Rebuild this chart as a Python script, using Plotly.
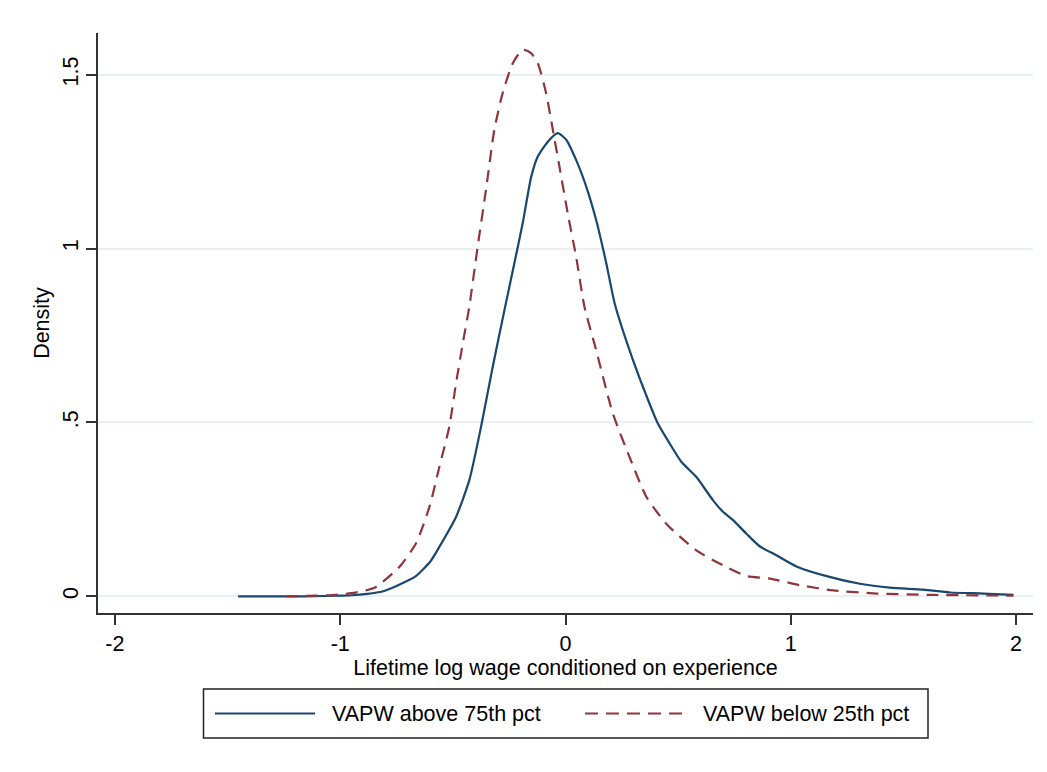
import plotly.graph_objects as go

# ---- data ----
above_x = [-1.453, -1.3, -1.15, -1.0, -0.946, -0.88, -0.813, -0.75, -0.664, -0.60, -0.56, -0.486, -0.427,
           -0.375, -0.323, -0.271, -0.227, -0.190, -0.152, -0.123, -0.071, -0.034, 0.003, 0.047,
           0.092, 0.136, 0.181, 0.218, 0.284, 0.344, 0.41, 0.462, 0.514, 0.581, 0.655, 0.699,
           0.744, 0.803, 0.862, 0.936, 1.025, 1.159, 1.307, 1.44, 1.588, 1.707, 1.855, 1.988]
above_y = [0.0, 0.0, 0.0, 0.002, 0.003, 0.007, 0.014, 0.030, 0.058, 0.100, 0.142, 0.228, 0.334,
           0.487, 0.660, 0.823, 0.958, 1.073, 1.207, 1.265, 1.313, 1.332, 1.313, 1.255,
           1.178, 1.082, 0.958, 0.843, 0.708, 0.602, 0.497, 0.440, 0.387, 0.343, 0.276, 0.243,
           0.219, 0.180, 0.144, 0.118, 0.086, 0.058, 0.036, 0.025, 0.019, 0.011, 0.008, 0.004]

below_x = [-1.241, -1.15, -1.05, -0.95, -0.886, -0.841, -0.738, -0.664, -0.604, -0.56, -0.516, -0.486,
           -0.456, -0.427, -0.39, -0.353, -0.316, -0.279, -0.234, -0.19, -0.153, -0.123, -0.086,
           -0.056, -0.027, 0.010, 0.047, 0.084, 0.136, 0.21, 0.284, 0.359, 0.447, 0.581, 0.714,
           0.803, 0.907, 1.04, 1.188, 1.381, 1.632, 1.988]
below_y = [0.0, 0.001, 0.003, 0.009, 0.017, 0.027, 0.084, 0.152, 0.257, 0.372, 0.487, 0.612,
           0.727, 0.833, 1.005, 1.169, 1.341, 1.447, 1.533, 1.572, 1.562, 1.533, 1.447,
           1.341, 1.236, 1.101, 0.977, 0.833, 0.708, 0.526, 0.401, 0.286, 0.209, 0.132, 0.084,
           0.058, 0.051, 0.032, 0.017, 0.008, 0.004, 0.002]

x_ticks = [-2, -1, 0, 1, 2]
x_tick_labels = ["-2", "-1", "0", "1", "2"]
y_ticks = [0, 0.5, 1, 1.5]
y_tick_labels = ["0", ".5", "1", "1.5"]

label_above = "VAPW above 75th pct"
label_below = "VAPW below 25th pct"

NAVY = "#1a476f"
MAROON = "#90353b"
FONT = "Liberation Sans, Arial, sans-serif"

# page has an 8px body margin; figure is sized/offset to compensate
OFF = 8
W, H = 1047 - OFF, 772 - OFF
ML, MR, MT, MB = 98 - OFF, 14, 33 - OFF, 159
PW, PH = W - ML - MR, H - MT - MB


def px(xp):
    return (xp - OFF - ML) / PW


def py(yp):
    return (H - MB - (yp - OFF)) / PH


fig = go.Figure()
fig.add_trace(go.Scatter(x=above_x, y=above_y, mode="lines", name=label_above,
                         line=dict(color=NAVY, width=2.2, shape="spline", smoothing=0.6),
                         showlegend=False))
fig.add_trace(go.Scatter(x=below_x, y=below_y, mode="lines", name=label_below,
                         line=dict(color=MAROON, width=2.2, dash="12px,8px", shape="spline", smoothing=0.6),
                         showlegend=False))

# legend drawn as box + sample lines + text
shapes = [
    dict(type="rect", xref="paper", yref="paper", x0=px(203.5), x1=px(928), y0=py(689), y1=py(738),
         line=dict(color="#222", width=1.5), fillcolor="white", layer="above"),
    dict(type="line", xref="paper", yref="paper", x0=px(215), x1=px(315), y0=py(713.5), y1=py(713.5),
         line=dict(color=NAVY, width=2.2)),
    dict(type="line", xref="paper", yref="paper", x0=px(585), x1=px(686), y0=py(713.5), y1=py(713.5),
         line=dict(color=MAROON, width=2.2, dash="13px,8px")),
]
annotations = [
    dict(text=label_above, xref="paper", yref="paper", x=px(330), y=py(713.5), xanchor="left",
         yanchor="middle", showarrow=False, font=dict(family=FONT, size=21.5, color="black")),
    dict(text=label_below, xref="paper", yref="paper", x=px(701), y=py(713.5), xanchor="left",
         yanchor="middle", showarrow=False, font=dict(family=FONT, size=21.5, color="black")),
]

fig.update_layout(
    width=W, height=H,
    margin=dict(l=ML, r=MR, t=MT, b=MB, pad=0),
    paper_bgcolor="white", plot_bgcolor="white",
    font=dict(family=FONT, size=21.5, color="black"),
    shapes=shapes, annotations=annotations,
    showlegend=False,
    xaxis=dict(range=[-2.075, 2.075], tickvals=x_ticks, ticktext=x_tick_labels,
               showgrid=False, zeroline=False, showline=True, linecolor="#333", linewidth=1.5,
               ticks="outside", ticklen=10, tickwidth=1.5, tickcolor="#333",
               tickfont=dict(size=21.5), title=dict(text="Lifetime log wage conditioned on experience",
                                                    font=dict(size=21.5), standoff=2)),
    yaxis=dict(range=[-0.048, 1.62], tickvals=y_ticks, ticktext=y_tick_labels, tickangle=-90,
               showgrid=True, gridcolor="#e8f0f2", gridwidth=1.5, zeroline=False,
               showline=True, linecolor="#333", linewidth=1.5,
               ticks="outside", ticklen=10, tickwidth=1.5, tickcolor="#333",
               tickfont=dict(size=21.5), title=dict(text="Density", font=dict(size=21.5), standoff=3)),
)

fig.write_html("out.html")
